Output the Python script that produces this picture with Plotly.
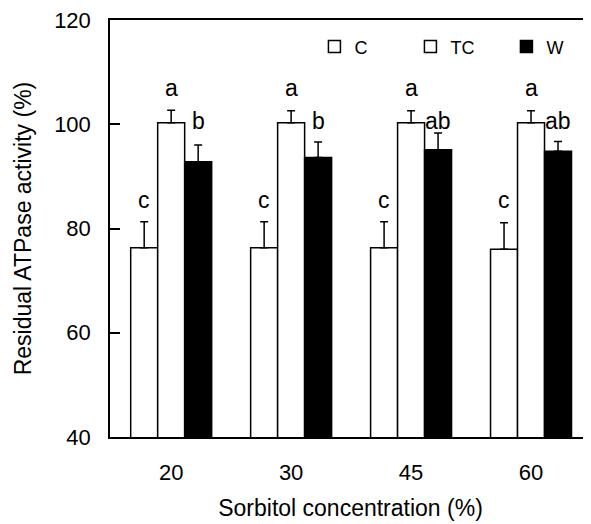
import plotly.graph_objects as go

categories = ["20", "30", "45", "60"]
c_vals = [76.3, 76.3, 76.3, 76.0]
c_err = [5.0, 5.0, 5.0, 5.1]
tc_vals = [100.3, 100.3, 100.3, 100.3]
tc_err = [2.4, 2.3, 2.3, 2.3]
w_vals = [92.8, 93.6, 95.1, 94.8]
w_err = [3.2, 3.0, 3.2, 1.9]
c_letters = ["c", "c", "c", "c"]
tc_letters = ["a", "a", "a", "a"]
w_letters = ["b", "b", "ab", "ab"]

FONT = "Liberation Sans, Arial, sans-serif"
LW = 1.5

def err(arr):
    return dict(type="data", array=arr, arrayminus=[0] * len(arr), symmetric=False,
                color="black", thickness=LW, width=4)

fig = go.Figure()
fig.add_trace(go.Bar(x=categories, y=c_vals, name="C", error_y=err(c_err),
                     marker=dict(color="white", line=dict(color="black", width=LW))))
fig.add_trace(go.Bar(x=categories, y=tc_vals, name="TC", error_y=err(tc_err),
                     marker=dict(color="white", line=dict(color="black", width=LW))))
fig.add_trace(go.Bar(x=categories, y=w_vals, name="W", error_y=err(w_err),
                     marker=dict(color="black", line=dict(color="black", width=LW))))

off = 0.225
ann = []
for i in range(len(categories)):
    ann.append(dict(x=i - off, y=85.5, text=c_letters[i], showarrow=False, xref="x", yref="y",
                    font=dict(size=23, family=FONT, color="black"), yanchor="middle"))
    ann.append(dict(x=i, y=107, text=tc_letters[i], showarrow=False, xref="x", yref="y",
                    font=dict(size=23, family=FONT, color="black"), yanchor="middle"))
    ann.append(dict(x=i + off, y=100.6, text=w_letters[i], showarrow=False, xref="x", yref="y",
                    font=dict(size=23, family=FONT, color="black"), yanchor="middle"))

fig.update_layout(
    width=583, height=516,
    margin=dict(l=102, r=0, t=12, b=87, autoexpand=False),
    paper_bgcolor="white", plot_bgcolor="white",
    barmode="group", bargap=0.325, bargroupgap=0,
    font=dict(family=FONT, color="black"),
    annotations=ann,
    showlegend=True,
    legend=dict(orientation="h", x=0.425, y=0.98, xanchor="left", yanchor="top",
                font=dict(size=18, family=FONT), bgcolor="rgba(0,0,0,0)",
                entrywidth=51, entrywidthmode="pixels", itemwidth=30,
                traceorder="normal"),
    xaxis=dict(range=[-0.51, 3.5], showline=True, linecolor="black", linewidth=LW,
               mirror=True, ticks="", tickfont=dict(size=22, family=FONT),
               ticklabelstandoff=15,
               title=dict(text="Sorbitol concentration (%)", font=dict(size=23, family=FONT), standoff=16),
               showgrid=False, zeroline=False),
    yaxis=dict(range=[40, 120], tickvals=[40, 60, 80, 100, 120], showline=True,
               linecolor="black", linewidth=LW, ticks="inside", ticklen=10,
               tickcolor="black", tickwidth=LW, tickfont=dict(size=22, family=FONT),
               ticklabelstandoff=13, ticklabeloverflow="allow",
               title=dict(text="Residual ATPase activity (%)", font=dict(size=23, family=FONT), standoff=16),
               showgrid=False, zeroline=False),
)

fig.write_html("out.html")
